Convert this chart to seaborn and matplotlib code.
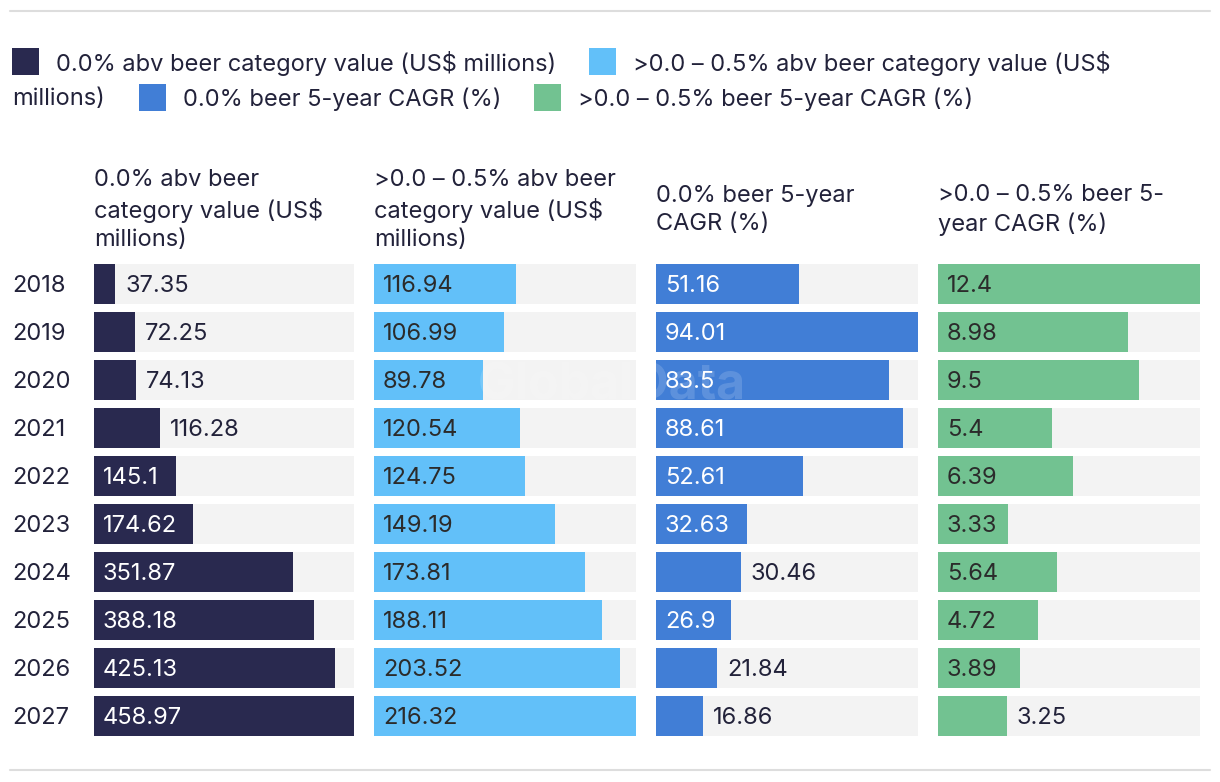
import matplotlib
matplotlib.use("Agg")
import matplotlib.pyplot as plt
import seaborn as sns
import pandas as pd
from matplotlib.patches import Rectangle
from matplotlib.lines import Line2D

# data
years = ["2018", "2019", "2020", "2021", "2022", "2023", "2024", "2025", "2026", "2027"]
beer_00_value = [37.35, 72.25, 74.13, 116.28, 145.1, 174.62, 351.87, 388.18, 425.13, 458.97]
beer_05_value = [116.94, 106.99, 89.78, 120.54, 124.75, 149.19, 173.81, 188.11, 203.52, 216.32]
beer_00_cagr = [51.16, 94.01, 83.5, 88.61, 52.61, 32.63, 30.46, 26.9, 21.84, 16.86]
beer_05_cagr = [12.4, 8.98, 9.5, 5.4, 6.39, 3.33, 5.64, 4.72, 3.89, 3.25]

series_names = [
    "0.0% abv beer category value (US$ millions)",
    ">0.0 – 0.5% abv beer category value (US$ millions)",
    "0.0% beer 5-year CAGR (%)",
    ">0.0 – 0.5% beer 5-year CAGR (%)",
]
headers = [
    "0.0% abv beer\ncategory value (US$\nmillions)",
    ">0.0 – 0.5% abv beer\ncategory value (US$\nmillions)",
    "0.0% beer 5-year\nCAGR (%)",
    ">0.0 – 0.5% beer 5-\nyear CAGR (%)",
]
series_values = [beer_00_value, beer_05_value, beer_00_cagr, beer_05_cagr]

colors = ["#29294f", "#62c0f9", "#417ed6", "#72c291"]
inside_text = ["white", "#2b2b2b", "white", "#2b2b2b"]
dark = "#22223a"
track = "#f3f3f3"

sns.set_theme(style="white")
plt.rcParams["font.family"] = ["Inter", "DejaVu Sans"]

W, H = 1220, 782
fig = plt.figure(figsize=(W / 100, H / 100), dpi=100)
renderer = fig.canvas.get_renderer()


def fx(x):
    return x / W


def fy(y):
    return 1 - y / H


# panel layout in pixels
lefts = [94, 374, 656, 938]
widths = [260, 262, 262, 262]
top, bottom = 260, 740
FS = 17

for k, (vals, name) in enumerate(zip(series_values, series_names)):
    ax = fig.add_axes([fx(lefts[k]), fy(bottom), widths[k] / W, (bottom - top) / H])
    vmax = max(vals)
    df = pd.DataFrame({"year": years, "value": vals, "full": [vmax] * len(vals)})
    sns.barplot(data=df, x="full", y="year", orient="h", color=track,
                saturation=1, width=0.833, linewidth=0, ax=ax)
    sns.barplot(data=df, x="value", y="year", orient="h", color=colors[k],
                saturation=1, width=0.833, linewidth=0, ax=ax)
    ax.set_xlim(0, vmax)
    ax.set_ylim(len(years) - 0.5, -0.5)
    ax.set_xlabel("")
    ax.set_ylabel("")
    ax.set_xticks([])
    sns.despine(ax=ax, left=True, bottom=True)
    if k == 0:
        ax.tick_params(axis="y", length=0, pad=(lefts[0] - 12) * 0.72,
                       labelsize=FS, labelcolor=dark)
        for lab in ax.get_yticklabels():
            lab.set_horizontalalignment("left")
    else:
        ax.set_yticks([])

    # header, centred vertically in the band above the bars
    ax.text(0, 1 + 50 / (bottom - top), headers[k], transform=ax.transAxes,
            ha="left", va="center", fontsize=FS, color=dark, linespacing=1.33)

    # value labels: inside the bar if it fits, otherwise just after it
    px_per_unit = widths[k] / vmax
    pad_px = 9
    for i, v in enumerate(vals):
        label = f"{v:g}"
        t = ax.text(0, i, label, fontsize=FS)
        tw = t.get_window_extent(renderer).width
        t.remove()
        bar_px = v * px_per_unit
        if bar_px - tw >= 19.5:
            ax.text(pad_px / px_per_unit, i, label, fontsize=FS, color=inside_text[k],
                    ha="left", va="center_baseline")
        else:
            ax.text(v + (pad_px + 1) / px_per_unit, i, label, fontsize=FS, color=dark,
                    ha="left", va="center_baseline")

# legend laid out as a flowing row
def text_w(s):
    t = fig.text(0, 0, s, fontsize=FS)
    w = t.get_window_extent(renderer).width
    t.remove()
    return w


row_y = [61, 97]
right_limit = 1200
x, row = 12, 0
for name, color in zip(series_names, colors):
    if x + 44 + 60 > right_limit:
        row += 1
        x = 12
    fig.patches.append(Rectangle((fx(x), fy(row_y[row] + 13.5)), 27 / W, 27 / H,
                                 transform=fig.transFigure, color=color, lw=0))
    tx = x + 44
    words = name.split(" ")
    line = ""
    while words:
        cand = (line + " " + words[0]).strip()
        if tx + text_w(cand) <= right_limit:
            line = cand
            words.pop(0)
        else:
            break
    fig.text(fx(tx), fy(row_y[row]), line, fontsize=FS, color=dark,
             ha="left", va="center_baseline")
    if words:
        row += 1
        rest = " ".join(words)
        fig.text(fx(12), fy(row_y[row]), rest, fontsize=FS, color=dark,
                 ha="left", va="center_baseline")
        x = 12 + text_w(rest) + 34
    else:
        x = tx + text_w(line) + 33

# separator lines
for yy in [11, 770]:
    fig.add_artist(Line2D([fx(10), fx(1210)], [fy(yy), fy(yy)], color="#dddddd",
                          lw=1.5, transform=fig.transFigure))

# watermark
fig.text(fx(612), fy(386), "GlobalData", fontsize=36, fontweight="bold",
         color="white", alpha=0.15, ha="center", va="center", zorder=10)

fig.savefig("out.png", dpi=100, facecolor="white")
